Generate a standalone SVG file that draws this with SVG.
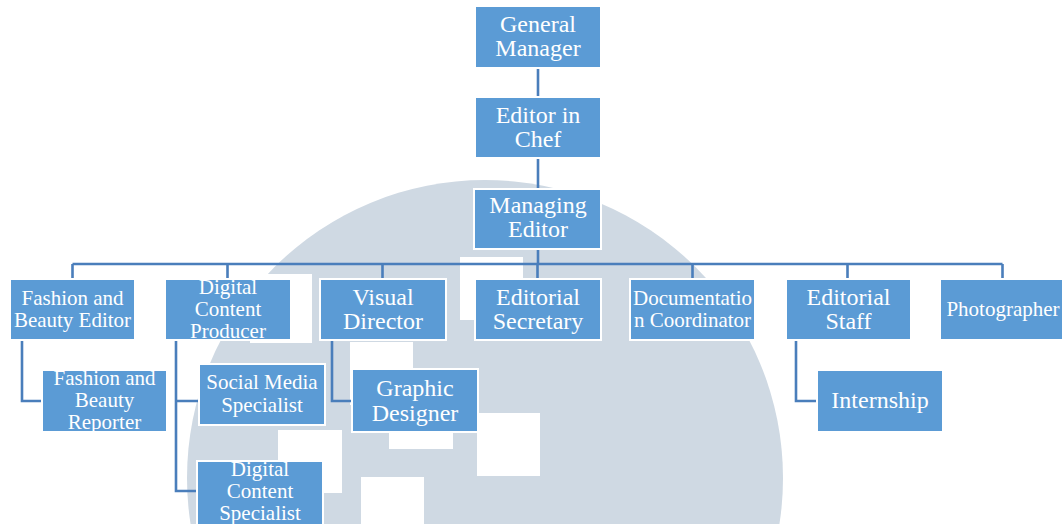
<svg xmlns="http://www.w3.org/2000/svg" width="1062" height="524" viewBox="0 0 1062 524">
<style>
.node rect{fill:#5B9BD5;stroke:#FFFFFF;stroke-width:2}
.node text{fill:#FFFFFF;text-anchor:middle}
.l{font-size:24px}
.s{font-size:21px}
#connectors path{fill:none;stroke:#4A7EBB;stroke-width:2.6}
.sq{fill:#FFFFFF}
</style>
<rect x="0" y="0" width="1062" height="524" fill="#FFFFFF"/>
<g id="background">
<circle cx="485" cy="478" r="298" fill="#CFD9E3"/>
<rect class="sq" x="250" y="274" width="62" height="69"/>
<rect class="sq" x="460" y="257" width="63" height="63"/>
<rect class="sq" x="350" y="342" width="63" height="63"/>
<rect class="sq" x="389" y="386" width="64" height="63"/>
<rect class="sq" x="477" y="413" width="63" height="63"/>
<rect class="sq" x="278" y="430" width="64" height="63"/>
<rect class="sq" x="361" y="477" width="63" height="63"/>
</g>
<g id="connectors">
<path d="M538 69V96"/>
<path d="M538 159V188"/>
<path d="M538 250V264"/>
<path d="M72.5 264H1002.5"/>
<path d="M72.5 264V278M227.5 264V278M382.5 264V278M537.5 264V278M692.5 264V278M847.5 264V278M1002.5 264V278"/>
<path d="M22 341V401H41"/>
<path d="M176 341V491H196M176 401H198"/>
<path d="M332 341V401H351"/>
<path d="M796 341V401H816"/>
</g>
<g id="nodes" font-family="'Liberation Serif', 'DejaVu Serif', 'Times New Roman', serif">
<g id="n-general-manager" class="node"><rect x="475" y="6" width="126" height="62"/><text class="l" x="538" y="32">General</text><text class="l" x="538" y="56">Manager</text></g>
<g id="n-editor-in-chef" class="node"><rect x="475" y="97" width="126" height="61"/><text class="l" x="538" y="123">Editor in</text><text class="l" x="538" y="147">Chef</text></g>
<g id="n-managing-editor" class="node"><rect x="474" y="189" width="127" height="60"/><text class="l" x="538" y="213">Managing</text><text class="l" x="538" y="237">Editor</text></g>
<g id="n-fashion-editor" class="node"><rect x="10" y="279" width="125" height="61"/><text class="s" x="72.5" y="305">Fashion and</text><text class="s" x="72.5" y="327">Beauty Editor</text></g>
<g id="n-digital-content-producer" class="node"><rect x="165" y="279" width="126" height="61"/><text class="s" x="228" y="294">Digital</text><text class="s" x="228" y="316">Content</text><text class="s" x="228" y="338">Producer</text></g>
<g id="n-visual-director" class="node"><rect x="320" y="279" width="126" height="61"/><text class="l" x="383" y="305">Visual</text><text class="l" x="383" y="329">Director</text></g>
<g id="n-editorial-secretary" class="node"><rect x="475" y="279" width="126" height="61"/><text class="l" x="538" y="305">Editorial</text><text class="l" x="538" y="329">Secretary</text></g>
<g id="n-documentation-coordinator" class="node"><rect x="630" y="279" width="125" height="61"/><text class="s" x="692.5" y="305">Documentatio</text><text class="s" x="692.5" y="327">n Coordinator</text></g>
<g id="n-editorial-staff" class="node"><rect x="786" y="279" width="125" height="61"/><text class="l" x="848.5" y="305">Editorial</text><text class="l" x="848.5" y="329">Staff</text></g>
<g id="n-photographer" class="node"><rect x="940" y="279" width="126" height="61"/><text class="s" x="1003" y="316">Photographer</text></g>
<g id="n-fashion-reporter" class="node"><rect x="42" y="370" width="125" height="62"/><text class="s" x="104.5" y="385">Fashion and</text><text class="s" x="104.5" y="407">Beauty</text><text class="s" x="104.5" y="429">Reporter</text></g>
<g id="n-social-media" class="node"><rect x="199" y="364" width="126" height="61"/><text class="s" x="262" y="389">Social Media</text><text class="s" x="262" y="412">Specialist</text></g>
<g id="n-digital-content-specialist" class="node"><rect x="197" y="461" width="126" height="66"/><text class="s" x="260" y="476">Digital</text><text class="s" x="260" y="498">Content</text><text class="s" x="260" y="520">Specialist</text></g>
<g id="n-graphic-designer" class="node"><rect x="352" y="369" width="126" height="63"/><text class="l" x="415" y="396">Graphic</text><text class="l" x="415" y="421">Designer</text></g>
<g id="n-internship" class="node"><rect x="817" y="370" width="126" height="62"/><text class="l" x="880" y="408">Internship</text></g>
</g>
</svg>
